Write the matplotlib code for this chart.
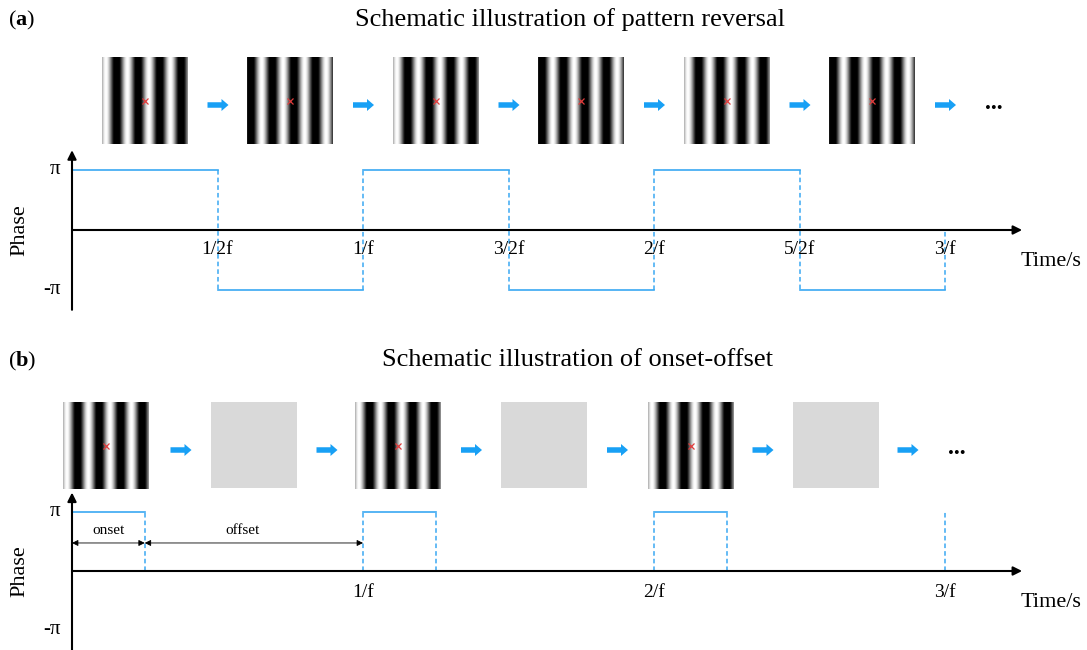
import numpy as np
import matplotlib
matplotlib.use('Agg')
from matplotlib import pyplot as plt
from matplotlib.patches import FancyArrow, Rectangle

plt.rcParams['font.family'] = ['Liberation Serif', 'DejaVu Serif']
plt.rcParams['mathtext.fontset'] = 'custom'
plt.rcParams['mathtext.rm'] = 'Liberation Serif'
plt.rcParams['mathtext.bf'] = 'Liberation Serif:bold'

# ---- data (time in units of 1/f, phase in units of pi) ----
rev_edges = [0, 0.5, 1.0, 1.5, 2.0, 2.5, 3.0]
rev_levels = [1, -1, 1, -1, 1, -1]
rev_ticks = [0.5, 1.0, 1.5, 2.0, 2.5, 3.0]
rev_labels = ['1/2f', '1/f', '3/2f', '2/f', '5/2f', '3/f']

on_starts = [0, 1, 2]
on_dur = 0.25
on_ticks = [1, 2, 3]
on_labels = ['1/f', '2/f', '3/f']

rev_frames = ['A', 'B', 'A', 'B', 'A', 'B']
on_frames = ['A', 'gray', 'A', 'gray', 'A', 'gray']

W, H = 1087, 650
BLUE = '#3AA8F2'
ARROW_BLUE = '#18A0F5'
T0, PX_T = 72, 291.0


def grating(phase, n=172, cycles=4.0, contrast=1.2, bias=-0.2):
    u = (np.arange(n) + 0.5) / n
    row = np.clip(contrast * np.cos(2 * np.pi * cycles * u + phase) + bias, -1, 1)
    return np.tile(0.5 + 0.5 * row, (n, 1))


PHASE_A = np.pi - 2 * np.pi * 4 * 0.171
frames = {'A': grating(PHASE_A), 'B': grating(PHASE_A + np.pi)}

fig = plt.figure(figsize=(W / 100, H / 100), dpi=100)
bg = fig.add_axes([0, 0, 1, 1])
bg.set_xlim(0, W)
bg.set_ylim(H, 0)
bg.axis('off')


def wave_axes(y0_px, px_p, tlim=(-0.3, 3.8), plim=(-1.45, 1.45)):
    left = T0 + tlim[0] * PX_T
    right = T0 + tlim[1] * PX_T
    top = y0_px - plim[1] * px_p
    bot = y0_px - plim[0] * px_p
    ax = fig.add_axes([left / W, 1 - bot / H, (right - left) / W, (bot - top) / H])
    ax.set_xlim(tlim)
    ax.set_ylim(plim)
    ax.axis('off')
    ax.patch.set_alpha(0)
    return ax


def draw_axes(ax, ticks, labels, ybot=-1.33, tick_y=-0.32):
    arr = dict(arrowstyle='-|>', color='k', lw=1.5, mutation_scale=13,
               shrinkA=0, shrinkB=0)
    ax.annotate('', xy=(3.265, 0), xytext=(0, 0), arrowprops=arr)
    ax.annotate('', xy=(0, 1.33), xytext=(0, ybot), arrowprops=arr)
    ax.text(-0.04, 1, 'π', ha='right', va='center', fontsize=15)
    ax.text(-0.04, -1, '-π', ha='right', va='center', fontsize=15)
    ax.text(-0.18, 0, 'Phase', rotation=90, ha='center', va='center', fontsize=16)
    ax.text(3.26, -0.53, 'Time/s', ha='left', va='center', fontsize=16)
    for t, lab in zip(ticks, labels):
        ax.text(t, tick_y, lab, ha='center', va='center', fontsize=14)


def draw_row(centers, arrows, kinds, ytop, dots_x):
    for cx, kind in zip(centers, kinds):
        x0, x1 = cx - 43, cx + 43
        if kind == 'gray':
            bg.add_patch(Rectangle((x0, ytop), 86, 86, color='#D9D9D9', lw=0))
        else:
            bg.imshow(frames[kind], cmap='gray', vmin=0, vmax=1, aspect='auto',
                      extent=(x0, x1, ytop + 87, ytop), interpolation='bilinear')
            bg.plot(cx, ytop + 44, marker='x', color='#E03C3C', ms=4.5, mew=0.9)
    for ax_ in arrows:
        bg.add_patch(FancyArrow(ax_ - 10, ytop + 48, 21, 0, width=5.5, head_width=12,
                                head_length=7, length_includes_head=True,
                                color=ARROW_BLUE, lw=0))
    bg.text(dots_x, ytop + 52, '...', ha='center', va='baseline', fontsize=17,
            fontweight='bold')


# ---- panel (a) ----
bg.text(8, 20, '($\\mathbf{a}$)', ha='left', va='center', fontsize=16)
bg.text(570, 20, 'Schematic illustration of pattern reversal', ha='center',
        va='center', fontsize=19)

a_centers = [T0 + PX_T * (0.25 + 0.5 * k) for k in range(6)]
a_arrows = [T0 + PX_T * (0.5 + 0.5 * k) for k in range(6)]
draw_row(a_centers, a_arrows, rev_frames, 57, 994)

ax_a = wave_axes(230, 60)
draw_axes(ax_a, rev_ticks, rev_labels)
for i, lev in enumerate(rev_levels):
    ax_a.plot([rev_edges[i], rev_edges[i + 1]], [lev, lev], color=BLUE, lw=1.2)
for i in range(1, len(rev_edges) - 1):
    ax_a.plot([rev_edges[i]] * 2, [rev_levels[i - 1], rev_levels[i]], color=BLUE,
              lw=1.1, ls=(0, (3, 2)))
ax_a.plot([rev_edges[-1]] * 2, [rev_levels[-1], 0], color=BLUE, lw=1.1, ls=(0, (3, 2)))

# ---- panel (b) ----
bg.text(8, 361, '($\\mathbf{b}$)', ha='left', va='center', fontsize=16)
bg.text(578, 360, 'Schematic illustration of onset-offset', ha='center',
        va='center', fontsize=19)

b_centers = [105.5, 253.5, 398, 543.5, 691, 836]
b_arrows = [180.5, 326.5, 471, 617, 762.5, 907.5]
draw_row(b_centers, b_arrows, on_frames, 402, 957)

ax_b = wave_axes(571, 59)
draw_axes(ax_b, on_ticks, on_labels, ybot=-1.36, tick_y=-0.36)
for s in on_starts:
    ax_b.plot([s, s + on_dur], [1, 1], color=BLUE, lw=1.2)
    if s > 0:
        ax_b.plot([s, s], [0, 1], color=BLUE, lw=1.1, ls=(0, (3, 2)))
    ax_b.plot([s + on_dur] * 2, [0, 1], color=BLUE, lw=1.1, ls=(0, (3, 2)))
ax_b.plot([3, 3], [0, 1], color=BLUE, lw=1.1, ls=(0, (3, 2)))

dim = dict(arrowstyle='<|-|>', color='k', lw=0.6, mutation_scale=9,
           shrinkA=0, shrinkB=0)
ax_b.annotate('', xy=(0, 0.475), xytext=(on_dur, 0.475), arrowprops=dim)
ax_b.annotate('', xy=(on_dur, 0.475), xytext=(on_starts[1], 0.475), arrowprops=dim)
ax_b.text(on_dur / 2, 0.68, 'onset', ha='center', va='center', fontsize=11)
ax_b.text(0.585, 0.68, 'offset', ha='center', va='center', fontsize=11)

fig.savefig('out.png', dpi=100)
